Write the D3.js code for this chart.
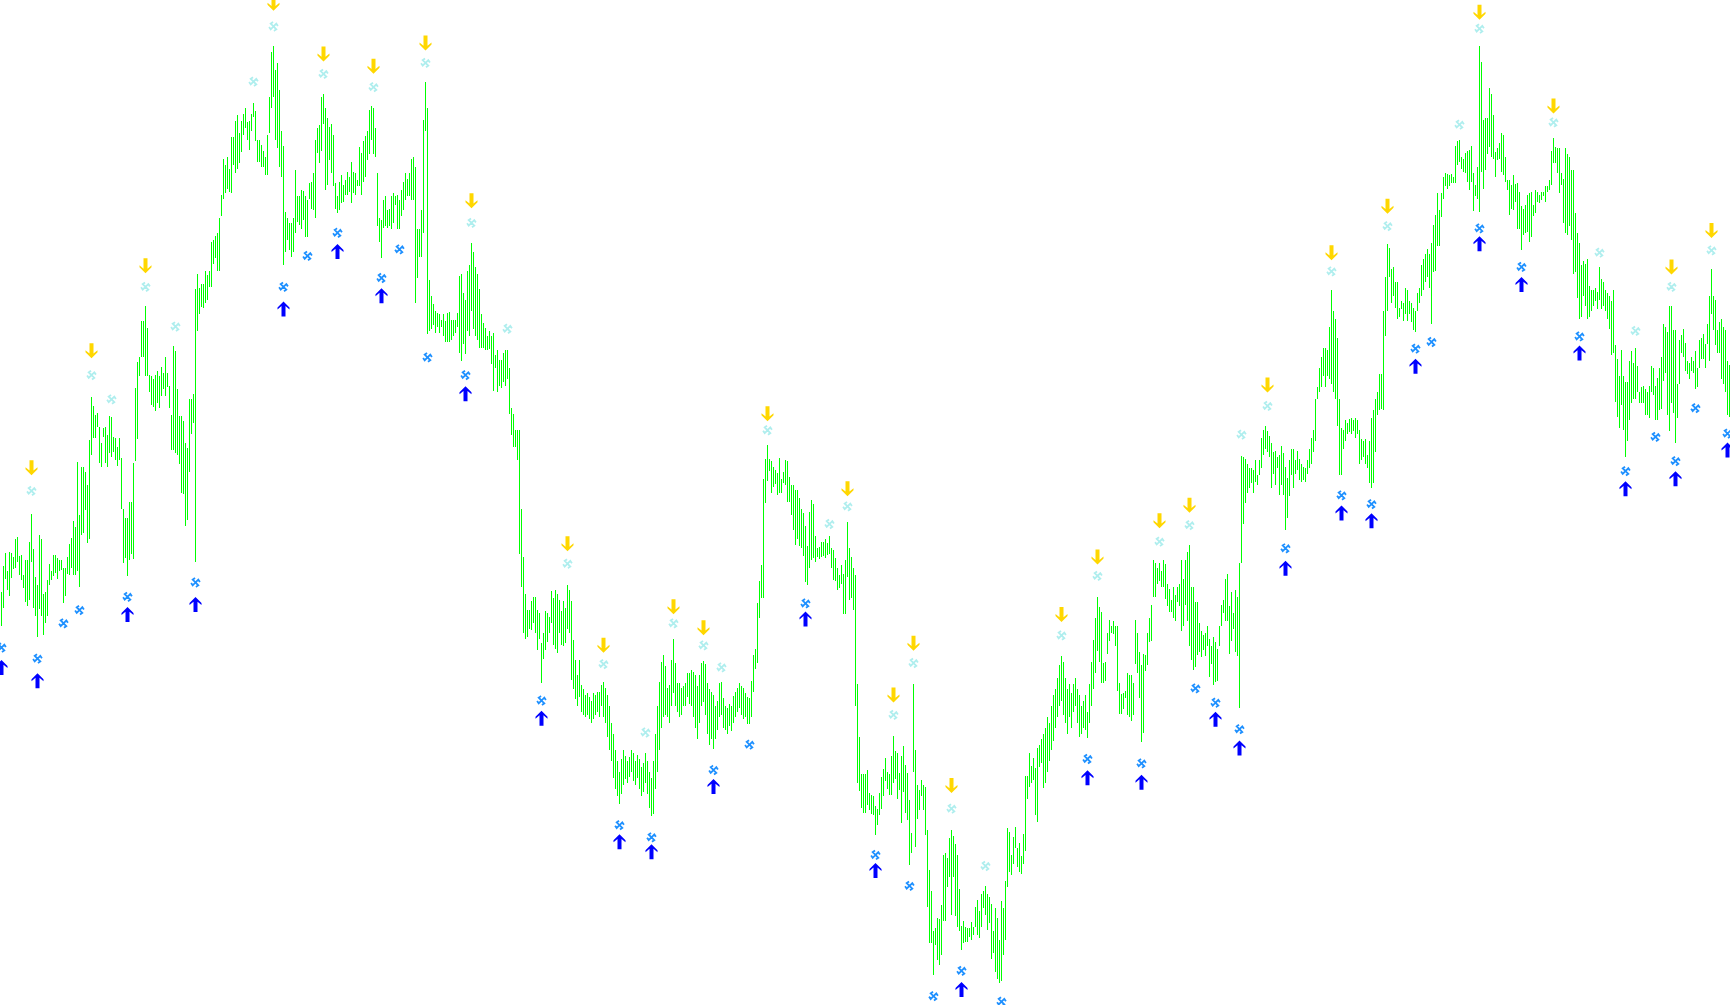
<!DOCTYPE html>
<html><head><meta charset="utf-8">
<script src="https://cdn.jsdelivr.net/npm/d3@7"></script>
<style>html,body{margin:0;padding:0;background:#fff;overflow:hidden}svg{display:block}</style>
</head><body>
<svg id="chart" width="1730" height="1005"></svg>
<script>
// Bar highs (price units)
const highs = [
463,487,499,482,500,499,495,511,513,496,
497,479,492,492,509,534,502,477,470,515,
511,462,463,474,489,482,497,497,494,492,
492,485,485,495,507,512,528,522,581,533,
577,577,572,560,601,640,632,624,626,613,
598,612,613,606,623,622,604,603,595,603,
585,539,530,530,545,545,580,648,672,676,
709,709,723,703,660,659,656,660,664,659,
667,662,676,662,650,624,686,682,647,623,
623,618,598,594,638,638,643,738,752,739,
743,743,754,751,754,781,782,786,789,802,
823,856,850,858,847,876,876,890,896,879,
890,897,902,889,890,897,907,899,873,873,
869,863,858,878,912,953,958,937,943,918,
881,868,808,802,798,798,802,846,822,822,
828,827,822,819,834,835,843,873,884,887,
912,915,902,893,885,888,878,834,822,835,
841,832,837,844,840,853,844,843,837,867,
861,872,877,881,900,904,902,884,843,802,
801,819,822,810,811,822,825,822,823,819,
828,835,843,838,843,856,858,849,792,792,
810,891,926,902,746,732,724,718,716,715,
710,715,709,716,717,710,710,710,716,750,
752,734,728,754,760,780,772,758,752,738,
715,707,703,695,700,695,698,678,683,674,
674,680,683,683,666,630,625,610,610,610,
539,495,462,447,447,455,459,459,447,444,
417,426,446,444,441,464,458,465,462,456,
446,455,449,470,465,455,420,402,388,402,
379,375,370,372,368,365,372,370,373,373,
379,382,376,370,360,345,335,320,310,300,
312,320,315,310,314,320,317,310,316,312,
305,308,317,310,300,295,310,335,360,382,
400,406,396,376,379,402,421,399,381,381,
376,378,381,390,390,393,391,388,378,388,
399,401,398,381,375,373,370,360,365,381,
382,367,360,358,362,360,369,373,376,381,
378,376,372,368,367,383,406,412,453,473,
488,566,584,597,584,582,577,574,571,585,
566,572,583,582,568,560,560,556,556,549,
539,535,523,505,536,547,543,514,503,504,
509,509,511,508,514,503,501,494,485,479,
488,480,492,527,503,495,485,479,380,332,
298,298,298,302,281,279,278,269,267,281,
296,303,313,300,298,315,333,319,317,299,
315,324,307,299,275,245,380,320,288,284,
293,288,287,248,211,192,156,159,168,167,
180,225,227,222,240,248,242,235,225,194,
161,165,160,159,159,164,160,178,184,174,
190,192,197,190,187,181,156,177,168,148,
183,177,201,249,246,225,241,250,231,236,
224,244,297,297,317,306,313,304,322,325,
330,335,340,350,345,360,370,375,385,397,
405,400,385,375,380,372,380,385,375,370,
360,365,370,355,380,400,420,440,459,450,
445,399,400,426,438,433,437,433,433,381,
371,372,374,390,388,388,381,438,426,409,
397,407,406,426,440,452,492,490,485,490,
482,492,489,471,466,456,468,461,468,471,
492,475,492,500,506,468,468,454,454,435,
428,424,426,433,421,414,423,418,412,433,
452,456,475,480,451,463,444,465,459,490,
587,586,584,579,576,576,574,583,569,583,
603,610,614,609,605,598,590,591,586,588,
596,589,577,567,583,593,593,583,591,584,
579,577,576,583,593,603,610,638,649,666,
676,685,685,683,704,737,718,711,694,638,
612,610,619,617,620,621,619,621,619,610,
602,600,602,588,600,621,628,638,645,661,
661,718,749,779,775,756,758,744,744,721,
727,725,739,737,727,725,721,718,734,739,
760,765,770,774,770,780,796,805,825,810,
825,840,843,842,841,842,840,868,872,873,
858,856,861,863,864,868,843,832,849,958,
944,891,893,893,920,915,896,862,866,870,
879,878,858,837,837,832,841,833,834,826,
813,811,814,823,825,826,814,828,826,823,
826,826,831,831,837,863,875,867,866,866,
843,838,866,860,858,846,846,807,789,780,
760,763,761,765,741,737,737,739,735,758,
747,744,737,734,732,727,737,687,675,659,
683,659,654,654,673,682,671,685,668,645,
649,650,647,645,650,668,666,650,657,666,
676,706,704,699,723,723,701,701,652,692,
696,702,689,673,671,676,673,682,666,692,
694,697,688,706,732,756,732,728,701,708,
711,704,701,673,669
];
// Bar lows (price units)
const lows = [
433,449,475,465,460,476,484,485,491,479,
474,467,454,451,456,491,449,442,423,448,
442,424,435,442,470,474,478,481,475,482,
483,453,460,480,479,485,479,479,482,468,
515,517,538,508,511,588,603,603,613,580,
577,604,580,577,589,586,590,583,578,583,
539,490,494,478,492,498,493,582,602,659,
676,676,659,659,645,633,631,627,635,630,
641,647,641,649,630,592,592,589,588,579,
553,552,523,529,572,607,617,491,700,715,
722,721,725,728,740,740,761,766,754,754,
804,820,825,829,826,825,850,843,847,852,
862,878,884,873,864,881,894,872,853,853,
849,849,841,841,879,902,912,873,866,849,
840,760,772,782,773,767,772,789,799,796,
792,801,785,785,820,811,810,802,861,852,
863,888,828,832,855,843,831,811,807,810,
816,817,823,823,826,816,825,823,831,831,
823,835,840,855,860,873,860,858,795,781,
766,793,795,793,795,792,798,814,792,792,
804,810,819,822,822,819,819,725,748,767,
767,789,881,697,700,702,705,698,704,698,
704,695,690,690,690,692,695,698,704,680,
673,688,679,700,695,718,702,695,692,685,
685,685,683,683,684,670,646,666,645,650,
648,654,650,656,625,606,595,595,583,498,
468,426,421,423,430,429,435,426,411,421,
381,403,411,418,426,435,415,412,408,426,
415,414,417,430,426,384,375,366,360,368,
355,352,350,352,348,345,348,352,355,350,
360,350,345,332,320,310,295,285,278,271,
280,288,294,290,296,300,292,288,295,285,
278,282,290,280,268,260,262,285,300,320,
340,350,352,350,345,360,372,360,355,350,
352,360,360,368,362,360,350,340,330,345,
360,364,352,335,325,330,321,330,338,350,
352,340,338,335,342,337,345,350,355,358,
352,348,350,344,344,350,373,394,399,440,
458,458,544,564,573,553,559,561,551,553,
553,562,560,545,545,533,520,506,511,505,
503,496,472,470,485,492,494,491,495,493,
495,496,494,497,498,485,474,473,465,467,
471,443,443,477,456,458,447,360,290,283,
268,263,263,270,266,262,261,243,252,261,
267,278,292,285,279,279,290,294,276,284,
254,282,263,257,216,227,300,232,258,266,
278,266,243,178,145,145,116,143,130,125,
134,165,165,196,205,171,205,170,160,156,
139,145,146,146,151,148,152,160,152,150,
160,177,171,157,163,131,136,119,113,109,
111,134,148,196,210,207,217,231,214,210,
208,217,229,276,287,290,293,261,255,305,
308,286,290,300,310,320,328,340,350,360,
365,352,345,335,350,340,355,360,345,332,
335,340,338,331,345,360,375,390,410,400,
381,381,383,407,419,426,425,414,374,353,
353,357,367,352,350,346,352,398,390,367,
327,336,392,397,418,419,459,459,471,473,
468,468,457,451,445,445,440,437,454,451,
428,433,452,437,414,402,393,395,406,409,
404,411,405,414,386,398,379,382,383,414,
433,444,437,437,407,419,430,409,405,358,
490,525,544,553,558,562,553,563,560,569,
576,588,593,590,586,558,570,560,576,551,
560,551,520,530,550,569,558,570,574,565,
563,565,563,570,576,579,590,600,638,645,
649,659,649,659,656,652,645,638,614,569,
569,593,600,607,608,607,609,603,607,579,
583,586,579,576,562,558,562,590,624,628,
629,628,695,718,749,725,732,721,711,713,
720,709,715,709,715,708,701,699,718,725,
732,737,744,749,739,706,753,754,777,777,
803,820,831,829,831,834,834,834,850,853,
847,844,843,835,828,835,809,822,820,808,
844,829,846,860,867,858,856,840,855,856,
844,841,835,828,805,811,810,817,792,792,
773,787,789,790,781,785,804,807,817,816,
819,822,817,826,828,832,852,852,843,825,
832,798,789,787,795,782,752,753,730,711,
713,732,723,711,713,718,723,727,720,728,
720,723,718,711,702,678,680,636,622,612,
633,610,586,600,619,635,638,638,645,635,
635,635,624,624,621,645,642,619,619,628,
629,655,662,624,609,635,626,598,621,652,
680,676,664,661,656,664,662,647,649,666,
675,675,666,688,673,715,701,687,680,680,
656,652,645,624,622
];
// Sell signals (gold down arrows): bar index and price
const sellArrowIdx = [15,45,72,136,161,186,212,235,283,301,336,351,383,423,446,456,475,530,548,579,594,633,665,693,739,776,835,855];
const sellArrowPrice = [576,682,759,997,951,940,961,818,507,415,450,431,625,557,370,417,288,443,495,528,542,651,771,813,989,904,758,791];
// Upper fractal marks (pale turquoise)
const upperMarkIdx = [15,45,55,72,87,126,136,161,186,212,235,253,283,301,322,336,351,360,383,414,423,446,456,475,492,530,548,579,594,620,633,665,693,729,739,776,799,817,835,855];
const upperMarkPrice = [555,660,638,740,704,926,976,933,921,943,798,702,489,398,336,435,415,395,610,525,541,352,399,267,215,424,478,509,524,606,632,754,795,887,974,889,771,700,740,773];
// Lower fractal marks (dodger blue)
const lowerMarkIdx = [0,18,31,39,63,97,141,153,168,190,199,213,232,270,309,325,356,374,402,437,454,466,480,500,543,570,597,607,619,642,670,685,707,715,739,760,789,812,827,837,847,863];
const lowerMarkPrice = [413,403,435,447,459,472,740,768,789,748,774,676,660,365,252,241,302,325,453,225,197,97,120,92,312,308,376,363,339,503,551,543,684,690,793,758,695,573,604,582,630,607];
// Buy signals (blue up arrows)
const buyArrowIdx = [0,18,63,97,141,168,190,232,270,309,325,356,402,437,480,543,570,607,619,642,670,685,707,739,760,789,812,837,863];
const buyArrowPrice = [395,383,443,452,720,772,732,643,349,237,228,287,439,211,103,295,291,348,322,485,535,528,668,779,742,680,557,566,592];

const W = 1730, H = 1005;
const svg = d3.select('#chart');
const x = d3.scaleLinear().domain([0, highs.length - 1]).range([1.5, W - 0.5]);
const y = d3.scaleLinear().domain([89, 1000]).range([H, 0]);

const bars = highs.map((h, i) => ({ i, h, l: lows[i] }));
svg.append('g').attr('shape-rendering', 'crispEdges')
  .selectAll('rect').data(bars).join('rect')
  .attr('x', d => x(d.i) - 0.5)
  .attr('width', 1)
  .attr('y', d => y(d.h))
  .attr('height', d => Math.max(1, y(d.l) - y(d.h)))
  .attr('fill', '#00ff00');

const pinwheel = 'M0,0L-2.8,-2.8L-1.2,-3.9M0,0L2.8,-2.8L3.9,-1.2M0,0L2.8,2.8L1.2,3.9M0,0L-2.8,2.8L-3.9,1.2';
const arrowUp = 'M0,-7.5L6,-1.5L6,0.5L2,-2.8L2,7.5L-2,7.5L-2,-2.8L-6,0.5L-6,-1.5Z';

function marks(idx, price) {
  return idx.map((d, k) => ({ i: d, p: price[k] }));
}

svg.append('g').selectAll('path').data(marks(upperMarkIdx, upperMarkPrice)).join('path')
  .attr('d', pinwheel)
  .attr('transform', d => `translate(${x(d.i)},${y(d.p)})`)
  .attr('fill', 'none').attr('stroke', '#afeeee').attr('stroke-width', 1.8).attr('stroke-linecap', 'square');

svg.append('g').selectAll('path').data(marks(lowerMarkIdx, lowerMarkPrice)).join('path')
  .attr('d', pinwheel)
  .attr('transform', d => `translate(${x(d.i)},${y(d.p)})`)
  .attr('fill', 'none').attr('stroke', '#1e90ff').attr('stroke-width', 1.8).attr('stroke-linecap', 'square');

svg.append('g').selectAll('path').data(marks(sellArrowIdx, sellArrowPrice)).join('path')
  .attr('d', arrowUp)
  .attr('transform', d => `translate(${x(d.i)},${y(d.p)}) scale(1,-1)`)
  .attr('fill', '#ffd700');

svg.append('g').selectAll('path').data(marks(buyArrowIdx, buyArrowPrice)).join('path')
  .attr('d', arrowUp)
  .attr('transform', d => `translate(${x(d.i)},${y(d.p)})`)
  .attr('fill', '#0000ff');
</script>
</body></html>
